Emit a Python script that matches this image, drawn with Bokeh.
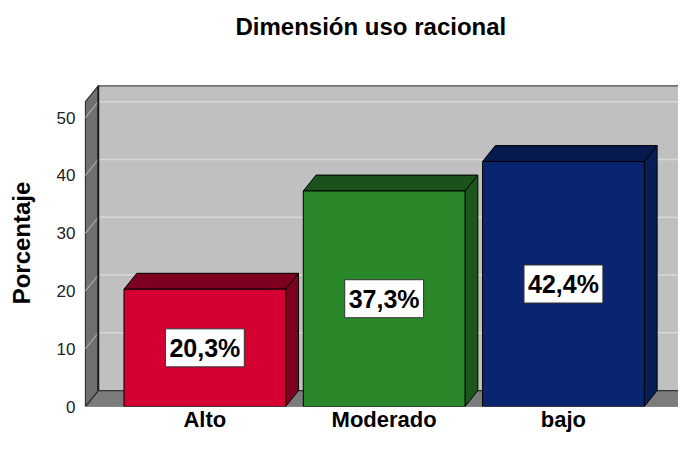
from bokeh.plotting import figure
from bokeh.models import ColumnDataSource, FixedTicker, Range1d, Title
from bokeh.core.properties import value
from bokeh.embed import file_html
from bokeh.resources import INLINE

# ---- data ----
categories = ["Alto", "Moderado", "bajo"]
percentages = [20.3, 37.3, 42.4]
value_labels = ["20,3%", "37,3%", "42,4%"]
y_ticks = [0, 10, 20, 30, 40, 50]
front_colors = ["#d50032", "#2a872a", "#0a2570"]
top_colors = ["#7e0021", "#1b521b", "#061a4e"]
side_colors = ["#7e0021", "#1b561b", "#071d55"]

# ---- style constants ----
FONT = "Liberation Sans"
DX = 0.0715      # depth offset (x units)
DY = 2.75        # depth offset (y units)
HALF_W = 0.451   # half bar width
WALL_H = 52.75   # wall height
X0 = -0.666      # left wall position
XR = 3.5         # beyond right edge

xs_pos = list(range(len(categories)))

p = figure(width=678, height=434, output_backend="svg", toolbar_location=None,
           x_range=Range1d(-0.6824, 2.6417), y_range=Range1d(0, 56.59),
           min_border_left=82, min_border_right=0, min_border_top=79,
           min_border_bottom=28)
p.outline_line_color = None
p.background_fill_color = "white"
p.border_fill_color = "white"
p.xgrid.visible = False
p.ygrid.visible = False

# back wall
p.quad(left=X0 + DX, right=XR, bottom=DY, top=WALL_H + DY,
       fill_color="#c0c0c0", line_color="#4a4a4a", line_width=1.2)
# back wall gridlines
for t in y_ticks[1:]:
    p.segment(x0=X0 + DX, y0=t + DY, x1=XR, y1=t + DY, line_color="#d8d8d8", line_width=1.5)
# floor
p.patch(x=[X0, XR, XR + DX, X0 + DX], y=[0, 0, DY, DY],
        fill_color="#7c7c7c", line_color="#333333", line_width=1.2)
# side wall
p.patch(x=[X0, X0, X0 + DX, X0 + DX], y=[0, WALL_H, WALL_H + DY, DY],
        fill_color="#707070", line_color="#333333", line_width=1.2)
for t in y_ticks[1:]:
    p.segment(x0=X0, y0=t, x1=X0 + DX, y1=t + DY, line_color="#a8a8a8", line_width=1.2)
p.segment(x0=X0 + DX, y0=DY, x1=X0 + DX, y1=WALL_H + DY, line_color="#1e1e1e", line_width=2)

# bars
for i, v in enumerate(percentages):
    xl, xr = xs_pos[i] - HALF_W, xs_pos[i] + HALF_W
    p.patch(x=[xr, xr, xr + DX, xr + DX], y=[0, v, v + DY, DY],
            fill_color=side_colors[i], line_color="black", line_width=1)
    p.patch(x=[xl, xr, xr + DX, xl + DX], y=[v, v, v + DY, v + DY],
            fill_color=top_colors[i], line_color="black", line_width=1)
    p.quad(left=xl, right=xr, bottom=0, top=v,
           fill_color=front_colors[i], line_color="black", line_width=1)

src = ColumnDataSource(dict(x=xs_pos, y=[v / 2 for v in percentages], label=value_labels))
p.text(x="x", y="y", text="label", source=src,
       text_font=value(FONT), text_font_style="bold", text_font_size=value("25px"),
       text_align="center", text_baseline="middle", text_color="black",
       background_fill_color="white", border_line_color="#333333", border_line_width=1,
       padding=dict(left=4, right=4, top=5, bottom=5))

# axes
for ax in (p.xaxis[0], p.yaxis[0]):
    ax.axis_line_color = None
    ax.major_tick_line_color = None
    ax.minor_tick_line_color = None
    ax.major_tick_out = 0
    ax.major_tick_in = 0
    ax.minor_tick_out = 0
    ax.minor_tick_in = 0

p.yaxis.ticker = FixedTicker(ticks=y_ticks)
p.yaxis.major_label_standoff = 7
p.yaxis.major_label_text_font = FONT
p.yaxis.major_label_text_font_size = "17px"
p.yaxis.major_label_text_color = "#222222"
p.yaxis.axis_label = "Porcentaje"
p.yaxis.axis_label_text_font = FONT
p.yaxis.axis_label_text_font_style = "bold"
p.yaxis.axis_label_text_font_size = "24px"
p.yaxis.axis_label_text_color = "black"
p.yaxis.axis_label_standoff = 19

p.xaxis.ticker = FixedTicker(ticks=xs_pos)
p.xaxis.major_label_overrides = {i: c for i, c in zip(xs_pos, categories)}
p.xaxis.major_label_standoff = 0
p.xaxis.axis_label_standoff = 0
p.xaxis.major_label_text_font = FONT
p.xaxis.major_label_text_font_style = "bold"
p.xaxis.major_label_text_font_size = "22px"
p.xaxis.major_label_text_color = "black"

p.title.text = "Dimensión uso racional"
p.title.align = "left"
p.title.offset = 153
p.title.standoff = 0
p.title.text_font = FONT
p.title.text_font_style = "bold"
p.title.text_font_size = "24px"
p.title.text_color = "black"

# empty spacer between title and plot area
p.add_layout(Title(text=" ", text_font_size="1px", standoff=37), "above")

open("out.html", "w").write(file_html(p, INLINE))
